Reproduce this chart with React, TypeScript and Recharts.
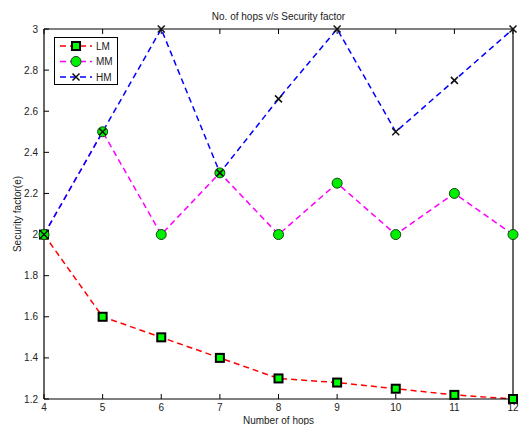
import React from 'react'
import { LineChart, Line, XAxis, YAxis } from 'recharts'

const hops = [4, 5, 6, 7, 8, 9, 10, 11, 12]
const lmValues = [2, 1.6, 1.5, 1.4, 1.3, 1.28, 1.25, 1.22, 1.2]
const mmValues = [2, 2.5, 2.0, 2.3, 2.0, 2.25, 2.0, 2.2, 2.0]
const hmValues = [2, 2.5, 3.0, 2.3, 2.66, 3.0, 2.5, 2.75, 3.0]
const yTicks = [1.2, 1.4, 1.6, 1.8, 2, 2.2, 2.4, 2.6, 2.8, 3]

const data = hops.map((h, i) => ({ hops: h, LM: lmValues[i], MM: mmValues[i], HM: hmValues[i] }))

const font = "'Liberation Sans', Arial, sans-serif"
const tickStyle = { fontSize: 10, fill: '#222', fontFamily: font }

const SquareDot = (props: any) => {
  const { cx, cy } = props
  return <rect x={cx - 4} y={cy - 4} width={8} height={8} fill="#00ff00" stroke="#000" strokeWidth={2} />
}
const CircleDot = (props: any) => {
  const { cx, cy } = props
  return <circle cx={cx} cy={cy} r={5} fill="#00ee00" stroke="#114411" strokeWidth={1} />
}
const CrossDot = (props: any) => {
  const { cx, cy } = props
  return (
    <path d={`M${cx - 3.5},${cy - 3.5}L${cx + 3.5},${cy + 3.5}M${cx - 3.5},${cy + 3.5}L${cx + 3.5},${cy - 3.5}`} stroke="#111" strokeWidth={1.5} />
  )
}

const legendRows = [
  { name: 'LM', color: '#ff0000', Dot: SquareDot },
  { name: 'MM', color: '#ff00ff', Dot: CircleDot },
  { name: 'HM', color: '#0000ff', Dot: CrossDot },
]

const LegendBox = () => (
  <svg width={64} height={48} style={{ display: 'block' }}>
    <rect x={0.5} y={0.5} width={63} height={47} fill="#fff" stroke="#000" strokeWidth={1} />
    {legendRows.map((r, i) => {
      const y = 9 + i * 15.5
      return (
        <g key={r.name}>
          <line x1={6} x2={38} y1={y} y2={y} stroke={r.color} strokeWidth={1.5} strokeDasharray="6 4" />
          <r.Dot cx={22} cy={y} />
          <text x={42} y={y + 3.5} fontSize={10} fontFamily={font} fill="#222">{r.name}</text>
        </g>
      )
    })}
  </svg>
)

export default function App() {
  return (
    <div style={{ position: 'absolute', left: 0, top: 0, width: 525, height: 425, background: '#fff' }}>
      <LineChart width={525} height={425} data={data} margin={{ top: 28, right: 11, bottom: 0, left: 0 }}>
        <XAxis
          xAxisId="bottom"
          dataKey="hops"
          type="number"
          domain={[4, 12]}
          ticks={hops}
          height={26}
          tickSize={-5}
          tickMargin={10}
          tick={tickStyle}
          axisLine={{ stroke: '#000', strokeWidth: 1.2 }}
          tickLine={{ stroke: '#000' }}
          label={{ value: 'Number of hops', position: 'insideBottom', offset: 1, fontSize: 10, fill: '#222', fontFamily: font }}
        />
        <XAxis
          xAxisId="top"
          orientation="top"
          dataKey="hops"
          type="number"
          domain={[4, 12]}
          ticks={hops}
          height={1}
          tickSize={-5}
          tickFormatter={() => ''}
          axisLine={{ stroke: '#000', strokeWidth: 1.2 }}
          tickLine={{ stroke: '#000' }}
          label={{ value: 'No. of hops v/s Security factor', position: 'top', offset: 8, fontSize: 10, fill: '#222', fontFamily: font }}
        />
        <YAxis
          yAxisId="left"
          type="number"
          domain={[1.2, 3]}
          ticks={yTicks}
          width={44}
          tickSize={-5}
          tickMargin={11}
          tick={tickStyle}
          axisLine={{ stroke: '#000', strokeWidth: 1.2 }}
          tickLine={{ stroke: '#000' }}
          label={(p: any) => {
            const vb = p.viewBox
            const cx = 18
            const cy = vb.y + vb.height / 2
            return (
              <text x={cx} y={cy} transform={`rotate(-90 ${cx} ${cy})`} textAnchor="middle" dominantBaseline="middle" fontSize={10} fill="#222" fontFamily={font}>
                Security factor(e)
              </text>
            )
          }}
        />
        <YAxis
          yAxisId="right"
          orientation="right"
          type="number"
          domain={[1.2, 3]}
          ticks={yTicks}
          width={1}
          tickSize={-5}
          tickFormatter={() => ''}
          axisLine={{ stroke: '#000', strokeWidth: 1.2 }}
          tickLine={{ stroke: '#000' }}
        />
        <Line xAxisId="bottom" yAxisId="left" dataKey="LM" stroke="#ff0000" strokeWidth={1.5} strokeDasharray="6 4" dot={<SquareDot />} isAnimationActive={false} />
        <Line xAxisId="bottom" yAxisId="left" dataKey="MM" stroke="#ff00ff" strokeWidth={1.5} strokeDasharray="6 4" dot={<CircleDot />} isAnimationActive={false} />
        <Line xAxisId="bottom" yAxisId="left" dataKey="HM" stroke="#0000ff" strokeWidth={1.5} strokeDasharray="6 4" dot={<CrossDot />} isAnimationActive={false} />
      </LineChart>
      <div style={{ position: 'absolute', left: 54, top: 37 }}>
        <LegendBox />
      </div>
    </div>
  )
}
